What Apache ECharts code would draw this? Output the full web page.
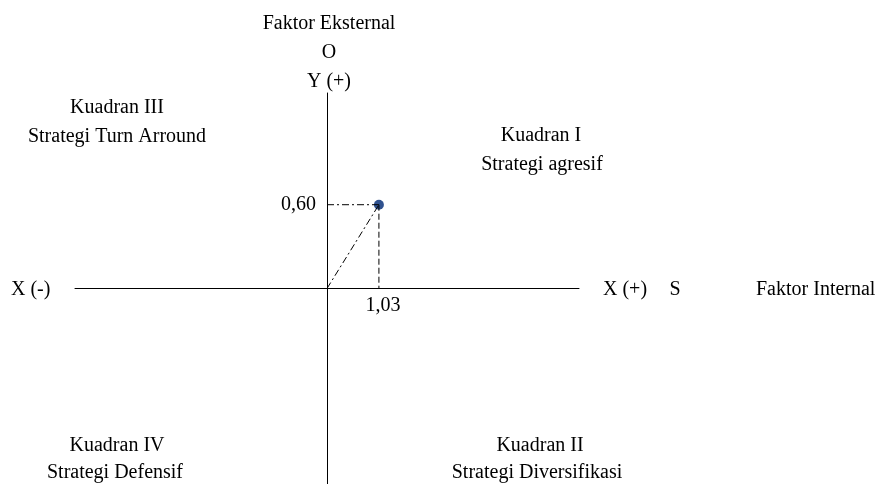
<!DOCTYPE html>
<html>
<head>
<meta charset="utf-8">
<script src="https://cdn.jsdelivr.net/npm/echarts@6/dist/echarts.min.js"></script>
<style>
  html, body { margin: 0; padding: 0; background: #fff; }
  #chart { width: 877px; height: 484px; }
</style>
</head>
<body>
<div id="chart"></div>
<script>
// posisi strategi (IFE - EFE)
var pointX = 1.03;   // faktor internal (S - W)
var pointY = 0.60;   // faktor eksternal (O - T)

var xRange = [-5, 5];
var yRange = [-1.4, 1.4];

var quadrantTitles = ['Kuadran I', 'Kuadran II', 'Kuadran III', 'Kuadran IV'];
var quadrantNames = ['Strategi agresif', 'Strategi Diversifikasi', 'Strategi Turn Arround', 'Strategi Defensif'];

var chart = echarts.init(document.getElementById('chart'));
var font = '"Liberation Serif", "Times New Roman", serif';
var fs = 20;

function fmt(v) { return v.toFixed(2).replace('.', ','); }

function txt(x, y, s, align) {
    return {
        type: 'text', x: x, y: y,
        style: {
            text: s, fill: '#000', font: fs + 'px ' + font,
            textAlign: align || 'center', textVerticalAlign: 'middle'
        }
    };
}

var dashDot = [7, 3, 2, 3];

chart.setOption({
    animation: false,
    grid: { left: 75, right: 298, top: 93, bottom: 0 },
    xAxis: {
        type: 'value', min: xRange[0], max: xRange[1],
        axisLine: { onZero: true, lineStyle: { color: '#000', width: 1 } },
        axisTick: { show: false }, axisLabel: { show: false }, splitLine: { show: false }
    },
    yAxis: {
        type: 'value', min: yRange[0], max: yRange[1],
        axisLine: { onZero: true, lineStyle: { color: '#000', width: 1 } },
        axisTick: { show: false }, axisLabel: { show: false }, splitLine: { show: false }
    },
    series: [
        {
            type: 'line', symbol: 'none', silent: true,
            data: [[0, pointY], [pointX, pointY]],
            lineStyle: { color: '#000', width: 1, type: dashDot }
        },
        {
            type: 'scatter', symbol: 'circle', symbolSize: 0.01, silent: true,
            data: [[0, pointY]],
            itemStyle: { opacity: 1 },
            label: {
                show: true, position: 'left', distance: 11,
                formatter: function () { return fmt(pointY); },
                color: '#000', fontSize: fs, fontFamily: font
            }
        },
        {
            type: 'line', symbol: 'none', silent: true,
            data: [[pointX, pointY], [pointX, 0]],
            lineStyle: { color: '#000', width: 1, type: [6, 3] }
        },
        {
            type: 'scatter', symbol: 'circle', symbolSize: 0.01, silent: true,
            data: [[pointX, 0]],
            itemStyle: { opacity: 1 },
            label: {
                show: true, position: 'bottom', distance: 7, offset: [4, 0],
                formatter: function () { return fmt(pointX); },
                color: '#000', fontSize: fs, fontFamily: font
            }
        },
        {
            type: 'line', symbol: 'none', silent: true,
            data: [[0, 0], [pointX, pointY]],
            lineStyle: { color: '#000', width: 1, type: dashDot }
        },
        {
            type: 'scatter', symbol: 'circle', symbolSize: 10,
            data: [[pointX, pointY]],
            itemStyle: { color: '#30528f', opacity: 1 }
        }
    ],
    graphic: [
        txt(329, 24, 'Faktor Eksternal'),
        txt(329, 53, 'O'),
        txt(329, 82, 'Y (+)'),
        txt(117, 108, quadrantTitles[2]),
        txt(117, 137, quadrantNames[2]),
        txt(541, 136, quadrantTitles[0]),
        txt(542, 165, quadrantNames[0]),
        txt(117, 446, quadrantTitles[3]),
        txt(115, 473, quadrantNames[3]),
        txt(540, 446, quadrantTitles[1]),
        txt(537, 473, quadrantNames[1]),
        txt(11, 290, 'X (-)', 'left'),
        txt(603, 290, 'X (+)', 'left'),
        txt(675, 290, 'S'),
        txt(756, 290, 'Faktor Internal', 'left')
    ]
});
</script>
</body>
</html>
